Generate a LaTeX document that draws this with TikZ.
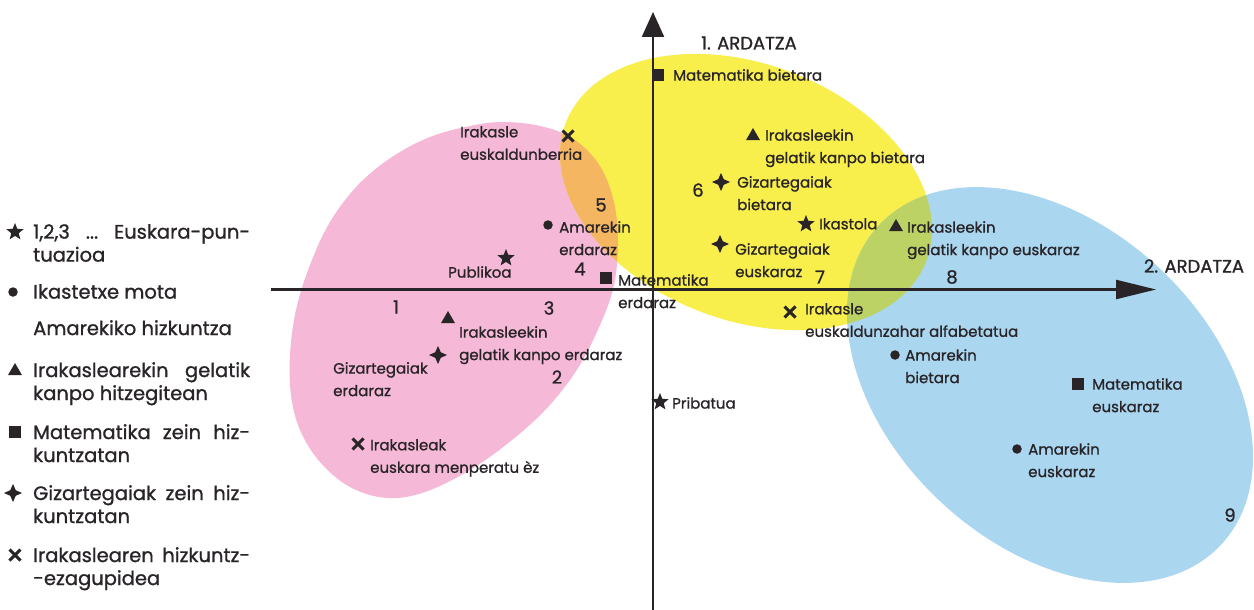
\documentclass[tikz,border=0pt]{standalone}
\usepackage{fontspec}
\setmainfont{Poppins}[FakeBold=1]
\usetikzlibrary{shapes.geometric,shapes.misc,arrows.meta}
\definecolor{ink}{RGB}{40,36,40}
\definecolor{pinkc}{RGB}{245,184,214}
\definecolor{yelc}{RGB}{248,238,76}
\definecolor{bluc}{RGB}{170,214,240}
\definecolor{orac}{RGB}{244,182,96}
\definecolor{grnc}{RGB}{188,210,100}
\def\pinkpath{plot[smooth cycle, tension=0.6] coordinates {(470,126) (503,122) (540,126) (572,138) (598,163) (613,198) (618,240) (614,285) (600,325) (578,368) (548,407) (512,440) (470,470) (425,492) (387,498) (350,487) (320,462) (300,430) (291,395) (290,355) (296,310) (310,265) (330,222) (358,185) (392,157) (430,137)}}
\begin{document}
\begin{tikzpicture}[x=1pt,y=-1pt,
  yelE/.style={shift={(746,192)},rotate=-21},
  bluE/.style={shift={(1050,385)},rotate=-43},
  txt/.style={font=\fontsize{15}{22.5}\selectfont, text=ink, inner sep=0pt, align=left, anchor=north west},
  lgd/.style={txt, font=\fontsize{19.5}{23}\selectfont},
  num/.style={font=\fontsize{18}{21}\selectfont, text=ink, inner sep=0pt},
  axis/.style={draw=ink, line width=2.2pt},
  mstar/.style={star, star points=5, star point ratio=2.3, minimum size=18pt, inner sep=0pt, fill=ink},
  mdot/.style={circle, minimum size=9.5pt, inner sep=0pt, fill=ink},
  mtri/.style={regular polygon, regular polygon sides=3, minimum size=16pt, inner sep=0pt, fill=ink},
  msq/.style={rectangle, minimum size=11.5pt, inner sep=0pt, fill=ink},
  mfour/.style={star, star points=4, star point ratio=2.3, minimum size=18pt, inner sep=0pt, fill=ink},
  mcross/.style={cross out, draw=ink, line width=3pt, minimum size=8pt, inner sep=0pt}
]
\useasboundingbox (0,0) rectangle (1254,610);
\fill[white] (0,0) rectangle (1254,610);

% coloured regions
\fill[pinkc] \pinkpath;
\fill[yelc,yelE] (0,0) ellipse [x radius=193, y radius=128];
\fill[bluc,bluE] (0,0) ellipse [x radius=234, y radius=160];
\begin{scope}
  \clip[yelE] (0,0) ellipse [x radius=193, y radius=128];
  \fill[orac] \pinkpath;
  \fill[grnc,bluE] (0,0) ellipse [x radius=234, y radius=160];
\end{scope}

% axes
\coordinate (vb) at (653,612);
\coordinate (vt) at (653,12);
\coordinate (hl) at (271,289.5);
\coordinate (hr) at (1156,289.5);
\draw[axis,-{Triangle[length=25pt,width=22pt]}] (vb) -- (vt);
\draw[axis,-{Triangle[length=40pt,width=19pt]}] (hl) -- (hr);
\node[num] (ax1) at (749,43) {1. ARDATZA};
\node[num] (ax2) at (1194,266) {2. ARDATZA};

% group numbers
\node[num] (n1) at (396,307) {1};
\node[num] (n2) at (557,377) {2};
\node[num] (n3) at (549,308) {3};
\node[num] (n4) at (580,269) {4};
\node[num] (n5) at (601,205) {5};
\node[num] (n6) at (698,190) {6};
\node[num] (n7) at (820,277) {7};
\node[num] (n8) at (952,277) {8};
\node[num] (n9) at (1230,515) {9};

% markers
\node[mcross] (m1) at (568,136) {};
\node[mstar] (m2) at (506,258) {};
\node[mdot] (m3) at (548,225) {};
\node[msq] (m4) at (606,278) {};
\node[mtri] (m5) at (448,319) {};
\node[mfour] (m6) at (438,355) {};
\node[mcross] (m7) at (358,444) {};
\node[mstar] (m8) at (660,402) {};
\node[msq] (m9) at (658,75) {};
\node[mtri] (m10) at (753,136) {};
\node[mfour] (m11) at (721,182) {};
\node[mstar] (m12) at (806,224) {};
\node[mtri] (m13) at (896,227) {};
\node[mfour] (m14) at (720,244) {};
\node[mcross] (m15) at (790,312) {};
\node[mdot] (m16) at (895,355) {};
\node[msq] (m17) at (1078,384) {};
\node[mdot] (m18) at (1017,449) {};

% point labels
\node[txt] (t1) at (460,126) {Irakasle\\euskaldunberria};
\node[txt] (t3) at (559,221) {Amarekin\\erdaraz};
\node[txt] (t2) at (448,266) {Publikoa};
\node[txt] (t4) at (618,274) {Matematika\\erdaraz};
\node[txt] (t5) at (459,326) {Irakasleekin\\gelatik kanpo erdaraz};
\node[txt] (t6) at (333,362) {Gizartegaiak\\erdaraz};
\node[txt] (t7) at (370,439) {Irakasleak\\euskara menperatu èz};
\node[txt] (t8) at (672,397) {Pribatua};
\node[txt] (t9) at (673,69) {Matematika bietara};
\node[txt] (t10) at (765,129) {Irakasleekin\\gelatik kanpo bietara};
\node[txt] (t11) at (737,176) {Gizartegaiak\\bietara};
\node[txt] (t12) at (819,218) {Ikastola};
\node[txt] (t13) at (907,221) {Irakasleekin\\gelatik kanpo euskaraz};
\node[txt] (t14) at (735,243) {Gizartegaiak\\euskaraz};
\node[txt] (t15) at (805,303) {Irakasle\\euskaldunzahar alfabetatua};
\node[txt] (t16) at (905,349) {Amarekin\\bietara};
\node[txt] (t17) at (1092,378) {Matematika\\euskaraz};
\node[txt] (t18) at (1028,443) {Amarekin\\euskaraz};

% legend
\node[mstar] (l1) at (15,232) {};
\node[mdot] (l2) at (13,292) {};
\node[mtri] (l3) at (15,371) {};
\node[msq] (l4) at (15,432) {};
\node[mfour] (l5) at (13,493) {};
\node[mcross] (l6) at (15,555) {};
\node[lgd] (lt1) at (33,224) {\hbox to 217pt{1,2,3\hfill...\hfill Euskara-pun-}\\tuazioa};
\node[lgd] (lt2) at (33,284) {Ikastetxe mota};
\node[lgd] (lt3) at (33,320) {Amarekiko hizkuntza};
\node[lgd] (lt4) at (33,362) {\hbox to 217pt{Irakaslearekin\hfill gelatik}\\kanpo hitzegitean};
\node[lgd] (lt5) at (33,424) {\hbox to 217pt{Matematika\hfill zein\hfill hiz-}\\kuntzatan};
\node[lgd] (lt6) at (33,485) {\hbox to 217pt{Gizartegaiak\hfill zein\hfill hiz-}\\kuntzatan};
\node[lgd] (lt7) at (33,547) {\hbox to 217pt{Irakaslearen\hfill hizkuntz-}\\-ezagupidea};
\end{tikzpicture}
\end{document}
